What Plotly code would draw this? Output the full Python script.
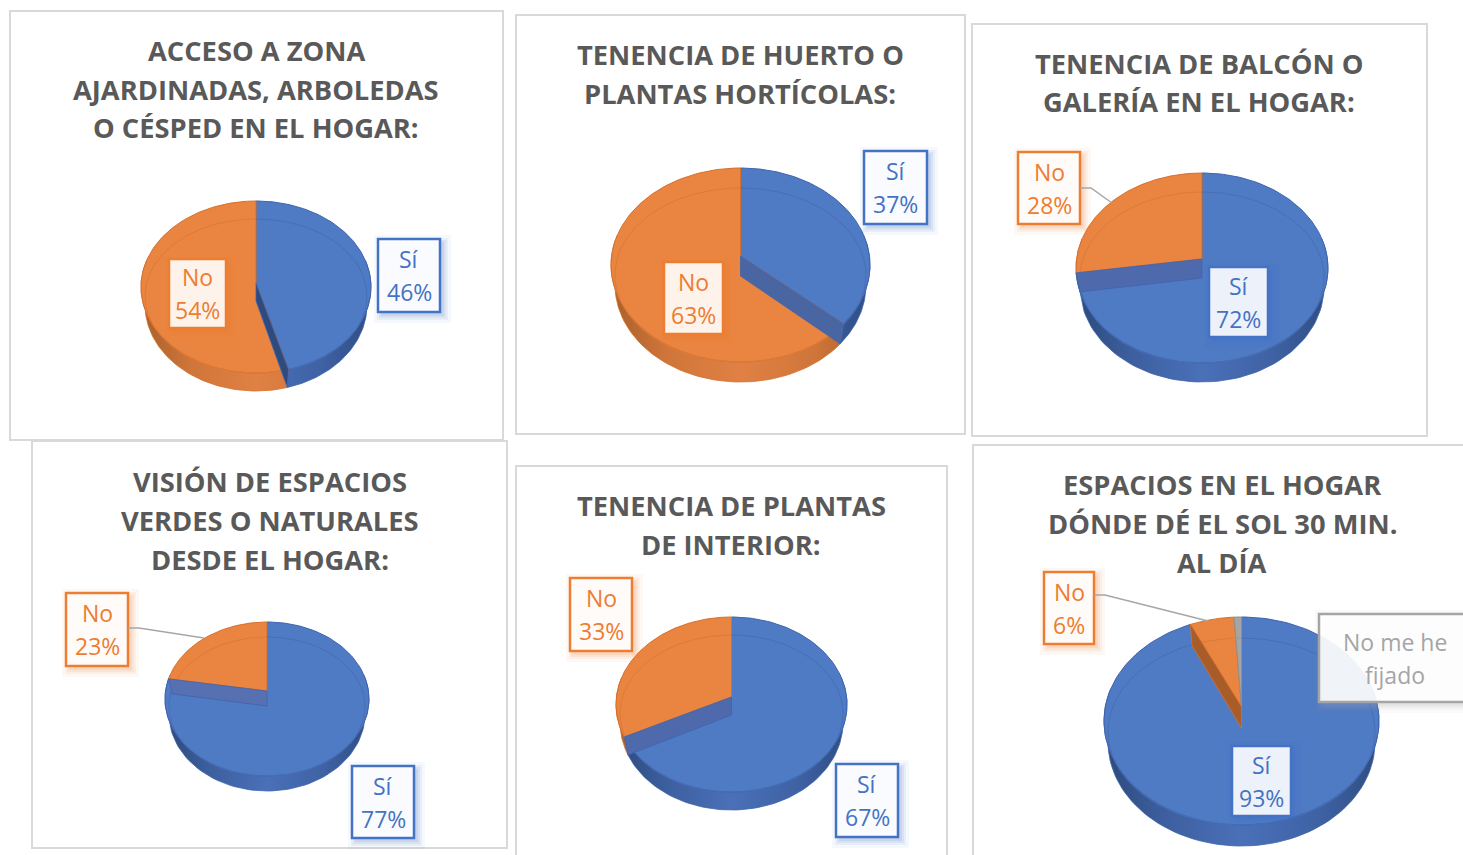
import numpy as np
import plotly.graph_objects as go

# ---------- data ----------
titles = [
    ["ACCESO A ZONA", "AJARDINADAS, ARBOLEDAS", "O CÉSPED EN EL HOGAR:"],
    ["TENENCIA DE HUERTO O", "PLANTAS HORTÍCOLAS:"],
    ["TENENCIA DE BALCÓN O", "GALERÍA EN EL HOGAR:"],
    ["VISIÓN DE ESPACIOS", "VERDES O NATURALES", "DESDE EL HOGAR:"],
    ["TENENCIA DE PLANTAS", "DE INTERIOR:"],
    ["ESPACIOS EN EL HOGAR", "DÓNDE DÉ EL SOL 30 MIN.", "AL DÍA"],
]
categories = ["Sí", "No", "No me he fijado"]
values_acceso = [46, 54]
values_huerto = [37, 63]
values_balcon = [72, 28]
values_vision = [77, 23]
values_plantas = [67, 33]
values_sol = [93, 6, 1]
all_values = [values_acceso, values_huerto, values_balcon, values_vision, values_plantas, values_sol]

# ---------- layout geometry and styles ----------
W, H = 1463, 855
FONT = "Open Sans"
BLUE, ORANGE, GREY = "#4f7ac4", "#ea8541", "#a5a5a5"
face_colors = [BLUE, ORANGE, GREY]
edge_colors = ["#3f64ad", "#d5702c", "#8f8f8f"]
inner_colors = ["#466fb8", "#df7a36", "#999999"]
label_colors = ["#4472c4", "#ed7d31", "#a5a5a5"]
wall_scales = [
    [[0, "#2d4a7c"], [0.22, "#3d5f9f"], [0.5, "#4a70b8"], [0.78, "#3f62a4"], [1, "#2f4d82"]],
    [[0, "#a9602a"], [0.22, "#d0763a"], [0.5, "#e08044"], [0.78, "#d0763a"], [1, "#a9602a"]],
    [[0, "#888888"], [1, "#999999"]],
]
panels = [(10, 11, 503, 440), (516, 15, 965, 434), (972, 24, 1427, 436),
          (32, 441, 507, 848), (516, 466, 947, 870), (973, 445, 1480, 870)]
# cx, cy, rx, ry, depth, y of the projected pie centre
pies = [(256, 287, 115, 86, 18, 283), (740.5, 265, 129.5, 97, 20, 256), (1202, 268, 126, 95, 19, 259),
        (267, 699, 102, 77, 15, 691), (731.5, 704.5, 115.5, 87.5, 18, 697), (1241.5, 721, 137.5, 104, 21, 707)]
cut_wall_colors = ["#2f4b7e", "#4a66a2", "#4f69ad", "#5670b2", "#4f69ad", "#a85c2a"]
title_x = [256, 740, 1199, 270, 731, 1222]
title_y = [[50, 89, 127], [54, 93], [63, 101.5], [481, 520, 559], [505, 544], [484, 523, 562]]
# label boxes: one per slice (x0, y0, x1, y1)
boxes = [
    [(378, 239, 440, 312), (169, 259, 226, 328)],
    [(864, 151, 927, 224), (664, 262, 723, 334)],
    [(1209, 267, 1268, 337), (1018, 152, 1080, 224)],
    [(352, 766, 414, 838), (66, 593, 128, 666)],
    [(836, 764, 898, 837), (570, 578, 632, 651)],
    [(1232, 746, 1291, 816), (1044, 572, 1094, 644), (1319, 614, 1471, 702)],
]
leaders = ["M1080,188 L1091,188 L1112,203", "M128,628 L139,628 L204,638", "M1094,595 L1105,595 L1208,621"]
PERSPECTIVE = 8.0  # degrees: side points of the tilted pie are pulled back


def warp(t):
    return t - PERSPECTIVE * np.sin(np.radians(t))


def ell(t, cx, cy, rx, ry):
    a = np.radians(warp(np.asarray(t, dtype=float)))
    return cx + rx * np.sin(a), cy - ry * np.cos(a)


def poly(fig, xs, ys, **kw):
    fig.add_trace(go.Scatter(x=np.round(xs, 2).tolist(), y=np.round(ys, 2).tolist(), mode="lines",
                             fill="toself", hoverinfo="skip", showlegend=False, **kw))


fig = go.Figure()
shapes, annotations = [], []


def text(x, y, s, size, color, bold=False):
    annotations.append(dict(x=x, y=y, xref="x", yref="y", text=f"<b>{s}</b>" if bold else s, showarrow=False,
                            xanchor="center", yanchor="middle", font=dict(family=FONT, size=size, color=color)))


for x0, y0, x1, y1 in panels:
    shapes.append(dict(type="rect", x0=x0, y0=y0, x1=x1, y1=y1, layer="below", fillcolor="white",
                       line=dict(color="#d9d9d9", width=2)))

for i, vals in enumerate(all_values):
    cx, cy, rx, ry, d, ay = pies[i]
    total = sum(vals)
    bounds = np.cumsum([0] + vals) / total * 360.0
    # outer side walls
    for j in range(len(vals)):
        a, b = max(bounds[j], 80), min(bounds[j + 1], 280)
        if b <= a:
            continue
        t = np.linspace(a, b, 80)
        x1, y1 = ell(t, cx, cy, rx, ry)
        x2, y2 = ell(t[::-1], cx, cy + d, rx - 4, ry)
        poly(fig, np.r_[x1, x2], np.r_[y1, y2], line=dict(color=edge_colors[j], width=0.8),
             fillgradient=dict(type="horizontal", colorscale=wall_scales[j], start=cx - rx, stop=cx + rx))
    # top faces
    for j in range(len(vals)):
        t = np.linspace(bounds[j], bounds[j + 1], 160)
        x, y = ell(t, cx, cy, rx, ry)
        poly(fig, np.r_[cx, x, cx], np.r_[ay, y, ay], fillcolor=face_colors[j],
             line=dict(color=edge_colors[j], width=1))
    # inner rim seen through the face
    for j in range(len(vals)):
        t = np.linspace(bounds[j], bounds[j + 1], 160)
        x, y = ell(t, cx, cy + d / 2, rx - 4, ry - d / 2)
        fig.add_trace(go.Scatter(x=np.round(x, 2).tolist(), y=np.round(y, 2).tolist(), mode="lines",
                                 line=dict(color=inner_colors[j], width=1), hoverinfo="skip", showlegend=False))
    # cut wall of the first slice
    xr, yr = ell([bounds[1]], cx, cy, rx, ry)
    xl, yl = ell([bounds[1]], cx, cy + d, rx - 4, ry)
    poly(fig, [cx, xr[0], xl[0], cx, cx], [ay, yr[0], yl[0], ay + d, ay], fillcolor=cut_wall_colors[i],
         line=dict(color=edge_colors[0] if i < 5 else edge_colors[1], width=0.8))
    # titles
    for line, y in zip(titles[i], title_y[i]):
        text(title_x[i], y, line, 27.3, "#595959", bold=True)
    # data labels
    for j, v in enumerate(vals):
        x0, y0, x1, y1 = boxes[i][j]
        col = label_colors[j]
        for k, op in zip((8, 5, 3, 1), (0.05, 0.07, 0.09, 0.12)):
            shapes.append(dict(type="rect", x0=x0 - k + 4, y0=y0 - k + 4, x1=x1 + k + 3, y1=y1 + k + 3, layer="above",
                               fillcolor=col, opacity=op, line=dict(width=0)))
        shapes.append(dict(type="rect", x0=x0, y0=y0, x1=x1, y1=y1, layer="above",
                           fillcolor="rgba(255,255,255,0.9)", line=dict(color=col, width=2.5)))
        xc, yc = (x0 + x1) / 2, (y0 + y1) / 2
        if j == 2:
            text(xc, yc - 16.5, "No me he", 23, col)
            text(xc, yc + 16.5, "fijado", 23, col)
        else:
            text(xc, yc - 16.5, categories[j], 23, col)
            text(xc, yc + 16.5, f"{v}%", 23, col)

for p in leaders:
    shapes.append(dict(type="path", path=p, layer="above", line=dict(color="#a6a6a6", width=1.5)))

fig.update_layout(
    width=W, height=H, margin=dict(l=0, r=0, t=0, b=0), paper_bgcolor="white", plot_bgcolor="white",
    showlegend=False, shapes=shapes, annotations=annotations,
    xaxis=dict(range=[0, W], visible=False, fixedrange=True),
    yaxis=dict(range=[H, 0], visible=False, fixedrange=True),
)
fig.write_html("out.html", config=dict(displayModeBar=False),
               post_script="document.body.style.margin='0';document.body.style.overflow='hidden';")
